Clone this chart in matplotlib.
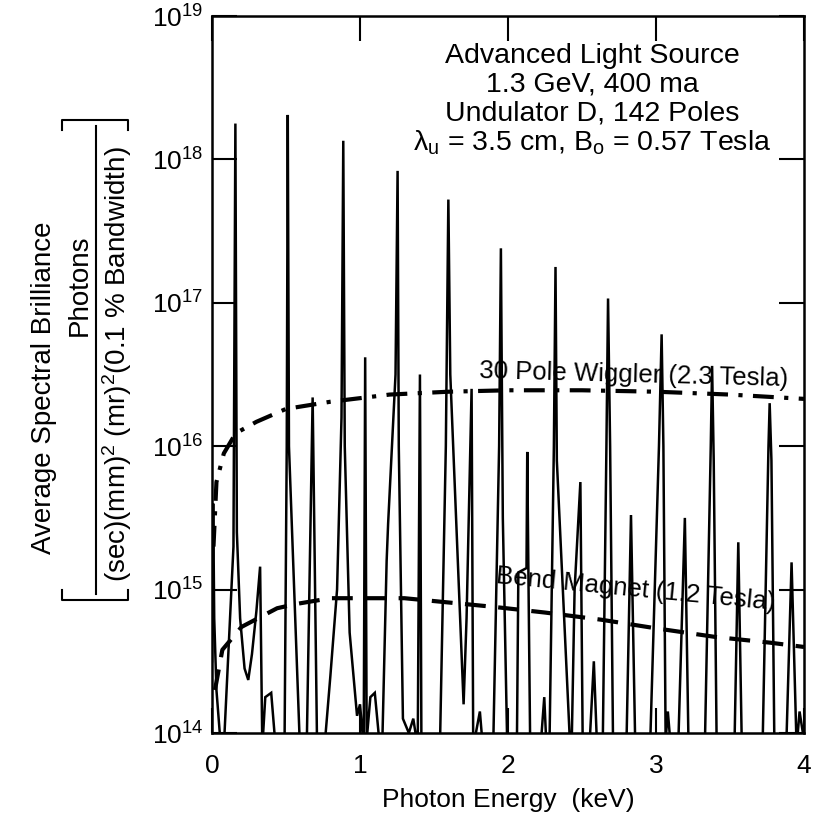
import numpy as np
import matplotlib
matplotlib.use("Agg")
import matplotlib.pyplot as plt
from matplotlib.lines import Line2D
from matplotlib.ticker import LogFormatterMathtext, FixedLocator

plt.rcParams['font.family'] = ['Liberation Sans', 'DejaVu Sans']
plt.rcParams['mathtext.fontset'] = 'custom'
plt.rcParams['mathtext.rm'] = 'Liberation Sans'
plt.rcParams['mathtext.it'] = 'Liberation Sans:italic'

# undulator spectrum, energy (keV) and log10 brilliance
spec_E = [0.000, 0.008, 0.015, 0.030, 0.060,
          0.080, 0.145, 0.158, 0.168, 0.190, 0.220, 0.245, 0.270, 0.300, 0.325, 0.340, 0.360, 0.400, 0.430,
          0.490, 0.505, 0.512, 0.520, 0.594,
          0.640, 0.680, 0.710,
          0.760, 0.800, 0.845, 0.875, 0.887, 0.897, 0.930, 0.980, 1.000,
          1.025, 1.035, 1.045, 1.070, 1.100, 1.130,
          1.150, 1.180, 1.190, 1.240, 1.254, 1.262, 1.290, 1.330, 1.360,
          1.390, 1.405, 1.415,
          1.540, 1.580, 1.597, 1.610, 1.700, 1.720, 1.754, 1.765, 1.810, 1.830,
          1.900, 1.940, 1.952, 1.965, 1.995,
          2.060, 2.070, 2.125, 2.130, 2.140, 2.150,
          2.220, 2.245, 2.260,
          2.280, 2.310, 2.321, 2.330, 2.420,
          2.430, 2.450, 2.489, 2.505,
          2.550, 2.580, 2.600,
          2.640, 2.665, 2.676, 2.690, 2.710,
          2.800, 2.831, 2.860,
          2.960, 3.020, 3.038, 3.050, 3.065, 3.080, 3.100,
          3.150, 3.195, 3.220,
          3.330, 3.370, 3.379, 3.390, 3.410,
          3.530, 3.556, 3.580,
          3.720, 3.760, 3.768, 3.780, 3.800,
          3.880, 3.916, 3.950, 3.970, 4.000]
spec_log = [14.5, 15.6, 14.8, 14.3, 13.9,
            13.9, 15.3, 18.25, 15.4, 14.8, 14.45, 14.37, 14.55, 14.85, 15.16, 13.9, 14.25, 14.28, 13.9,
            13.9, 16.0, 18.31, 16.0, 13.9,
            13.9, 16.34, 13.9,
            13.9, 14.4, 15.0, 16.2, 18.13, 16.0, 14.7, 14.12, 14.2,
            13.9, 16.62, 13.95, 14.25, 14.28, 13.95,
            13.9, 15.2, 15.46, 16.5, 17.92, 16.0, 14.1, 14.0, 14.1,
            13.9, 16.5, 13.9,
            13.9, 16.0, 17.72, 16.5, 14.2, 14.8, 16.40, 13.9, 14.15, 13.9,
            13.9, 16.0, 17.38, 15.5, 13.9,
            13.9, 15.12, 15.15, 15.96, 14.9, 13.9,
            13.9, 14.25, 13.9,
            13.9, 16.0, 17.25, 15.9, 13.9,
            13.9, 15.0, 15.75, 13.9,
            13.9, 14.5, 13.95,
            13.9, 16.0, 17.03, 16.0, 13.9,
            13.9, 15.52, 13.9,
            13.9, 16.0, 16.78, 16.0, 13.95, 14.15, 13.9,
            13.9, 15.50, 13.9,
            13.9, 16.0, 16.56, 15.9, 13.9,
            13.9, 15.33, 13.9,
            13.9, 16.0, 16.30, 15.9, 13.9,
            13.9, 15.19, 13.9, 14.15, 13.95]

# 30 pole wiggler
wig_E = [0.01, 0.03, 0.08, 0.16, 0.3, 0.5, 0.8, 1.2, 1.6, 2.0, 2.5, 3.0, 3.5, 4.0]
wig_log = [15.3, 15.75, 15.95, 16.09, 16.17, 16.26, 16.31, 16.36, 16.38, 16.39, 16.39, 16.38, 16.36, 16.33]

# bend magnet
bend_E = [0.02, 0.07, 0.2, 0.44, 0.57, 0.8, 1.3, 1.9, 2.25, 2.63, 3.0, 3.4, 3.77, 4.0]
bend_log = [14.3, 14.58, 14.74, 14.87, 14.9, 14.94, 14.94, 14.88, 14.84, 14.79, 14.73, 14.67, 14.63, 14.6]

x_ticks = [0, 1, 2, 3, 4]
y_ticks = [1e14, 1e15, 1e16, 1e17, 1e18, 1e19]

fig = plt.figure(figsize=(8.26, 8.18), dpi=100)
ax = fig.add_axes([212/826, 1-733/818, (804-212)/826, (733-16)/818])

ax.plot(spec_E, 10**np.array(spec_log), color='black', lw=1.8, solid_joinstyle='miter')
ax.plot(wig_E, 10**np.array(wig_log), color='black', lw=3, linestyle=(0, (5, 2.5, 1, 2.5)))
ax.plot(bend_E, 10**np.array(bend_log), color='black', lw=3, linestyle=(0, (5, 3)))

ax.set_yscale('log')
ax.set_xlim(0, 4)
ax.set_ylim(1e14, 1e19)
ax.yaxis.set_major_locator(FixedLocator(y_ticks))
ax.yaxis.set_major_formatter(LogFormatterMathtext())
ax.yaxis.set_minor_locator(FixedLocator([]))
ax.set_xticks(x_ticks)
ax.tick_params(direction='in', length=18, width=1.5, top=True, right=True, labelsize=19)
ax.tick_params(axis='x', pad=15)
ax.tick_params(axis='y', pad=6)
for s in ax.spines.values():
    s.set_linewidth(1.8)

ax.set_xlabel('Photon Energy  (keV)', fontsize=19, labelpad=7)

ax.text(0.642, 0.962, 'Advanced Light Source\n1.3 GeV, 400 ma\nUndulator D, 142 Poles\n'
        r'λ$_\mathregular{u}$ = 3.5 cm, B$_\mathregular{o}$ = 0.57 Tesla',
        transform=ax.transAxes, ha='center', va='top', fontsize=20.5, linespacing=1.12)
ax.text(0.713, 0.499, '30 Pole Wiggler (2.3 Tesla)', transform=ax.transAxes,
        ha='center', va='center', fontsize=18.5, rotation=-1.5)
ax.text(0.716, 0.2, 'Bend Magnet (1.2 Tesla)', transform=ax.transAxes,
        ha='center', va='center', fontsize=18.5, rotation=-5.5)

# y label: title plus bracketed unit fraction
fig.text(44/826, 1-388/818, 'Average Spectral Brilliance', rotation=90,
         ha='center', va='center', fontsize=20)
fig.text(80/826, 1-285/818, 'Photons', rotation=90, ha='center', va='center', fontsize=20)
fig.text(117/826, 1-364/818, r'(sec)(mm)$^2$ (mr)$^2$(0.1 % Bandwidth)', rotation=90,
         ha='center', va='center', fontsize=20)
fig.add_artist(Line2D([96/826, 96/826], [1-126/818, 1-594/818], color='black', lw=1.5))
fig.add_artist(Line2D([62/826, 62/826, 128/826, 128/826],
                      [1-130/818, 1-120/818, 1-120/818, 1-130/818], color='black', lw=1.5))
fig.add_artist(Line2D([62/826, 62/826, 128/826, 128/826],
                      [1-590/818, 1-600/818, 1-600/818, 1-590/818], color='black', lw=1.5))

fig.savefig('out.png', dpi=100)
